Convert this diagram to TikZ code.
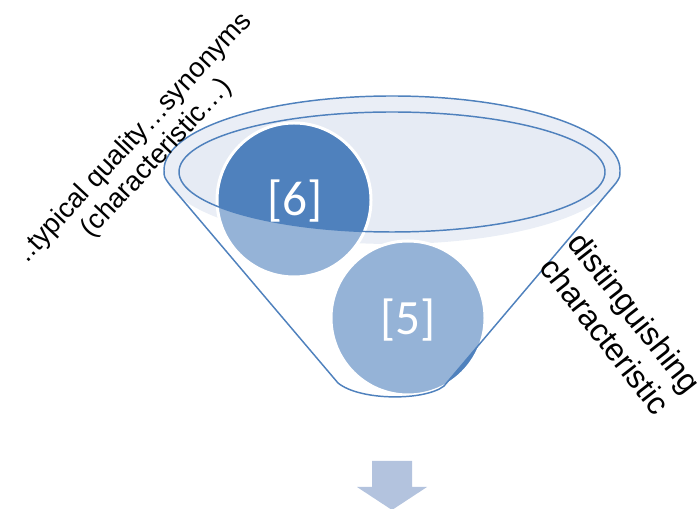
\documentclass[tikz,border=0pt]{standalone}
\usepackage{xcolor}
\usepackage{fontspec}
\usepackage{tikz}
\usetikzlibrary{positioning, calc}
\setmainfont{Liberation Sans}
\newfontfamily\numfont{Carlito}
\definecolor{funnelblue}{HTML}{4F81BD}
\definecolor{rimfill}{HTML}{DCE4F0}
\definecolor{mouthfill}{HTML}{E6EBF4}
\definecolor{arrowfill}{HTML}{B3C3DE}
\tikzset{
  ball/.style={fill=funnelblue, draw=white, line width=2.25pt},
  balltext/.style={font=\numfont\fontsize{37}{42}\selectfont, text=white},
  rimline/.style={draw=funnelblue, line width=1.1pt},
  sidelabel/.style={align=center, text=black},
}
\begin{document}
\begin{tikzpicture}[x=0.75pt, y=0.75pt]
  \useasboundingbox (0,0) rectangle (698,509);

  % funnel rim and mouth
  \fill[rimfill] (392,339) ellipse [x radius=228, y radius=74];
  \fill[mouthfill] (392,337) ellipse [x radius=213, y radius=60];

  % balls
  \path[ball] (294,309) circle [radius=77];
  \path[ball] (408,191) circle [radius=77];

  % funnel body lightens what lies in it
  \fill[white, opacity=0.4, even odd rule]
    (164,339) .. controls (164,332) .. (170,324) -- (338,126)
      .. controls (360,108) and (425,108) .. (444,123) -- (616,326)
      .. controls (620,332) .. (620,339)
      arc[start angle=0, end angle=180, x radius=228, y radius=74] -- cycle
    (392,337) ellipse [x radius=213, y radius=60];

  \draw[rimline] (164,339) .. controls (164,332) .. (170,324) -- (338,126)
      .. controls (360,108) and (425,108) .. (444,123) -- (616,326)
      .. controls (620,332) .. (620,339)
      arc[start angle=0, end angle=180, x radius=228, y radius=74];
  \draw[rimline] (392,337) ellipse [x radius=213, y radius=60];

  \node[balltext] (six) at (295,308) {[6]};
  \node[balltext] (five) at (408,189) {[5]};

  % labels
  \node[sidelabel, font=\fontsize{20.5}{22.5}\selectfont, rotate=47] (quality) at (146,361)
    {..typical quality…synonyms\\(characteristic…)};
  \node[sidelabel, font=\fontsize{24}{28}\selectfont, rotate=-52] (distinct) at (620,185)
    {distinguishing\\characteristic};

  % outlet arrow
  \fill[arrowfill] (372,48) -- (412,48) -- (412,22) -- (427,22) -- (392,-1)
    -- (357,22) -- (372,22) -- cycle;
\end{tikzpicture}
\end{document}
